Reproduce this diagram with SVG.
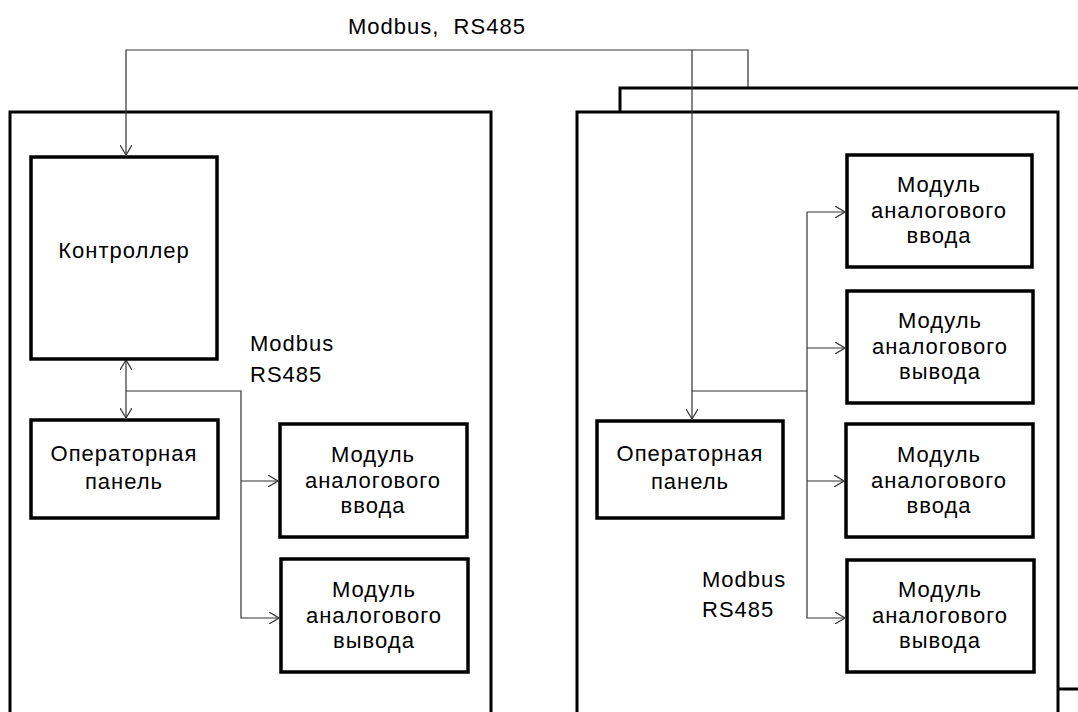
<svg xmlns="http://www.w3.org/2000/svg" width="1078" height="712" viewBox="0 0 1078 712">
<style>
.frame{fill:#fff;stroke:#000;stroke-width:3}
.box{fill:#fff;stroke:#000;stroke-width:3.5}
.wire{fill:none;stroke:#333;stroke-width:1.2}
text{font-family:"Liberation Sans",Arial,sans-serif;font-size:22px;letter-spacing:1px;fill:#000}
.c{text-anchor:middle}
</style>
<defs>
<marker id="ah" viewBox="0 0 10 12" refX="10" refY="6" markerWidth="10" markerHeight="12" markerUnits="userSpaceOnUse" orient="auto-start-reverse">
<path d="M0,0 L10,6 L0,12" fill="none" stroke="#333" stroke-width="1.2"/>
</marker>
</defs>
<rect width="1078" height="712" fill="#fff"/>
<g id="frame-left"><rect class="frame" x="10" y="112" width="481" height="700"/></g>
<g id="frame-right-back"><rect class="frame" x="620" y="88" width="600" height="601"/></g>
<g id="frame-right"><rect class="frame" x="577" y="112" width="481" height="700"/></g>
<g id="connectors">
<polyline class="wire" points="748,87 748,50 126,50 126,155" marker-end="url(#ah)"/>
<polyline class="wire" points="692,50 692,419" marker-end="url(#ah)"/>
<line class="wire" x1="126" y1="360" x2="126" y2="418" marker-start="url(#ah)" marker-end="url(#ah)"/>
<polyline class="wire" points="126,391 241,391 241,618 279,618" marker-end="url(#ah)"/>
<line class="wire" x1="241" y1="481" x2="278" y2="481" marker-end="url(#ah)"/>
<polyline class="wire" points="692,391 807,391 807,618 845,618" marker-end="url(#ah)"/>
<polyline class="wire" points="807,212 845,212" marker-end="url(#ah)"/>
<line class="wire" x1="807" y1="212" x2="807" y2="391"/>
<line class="wire" x1="807" y1="348" x2="845" y2="348" marker-end="url(#ah)"/>
<line class="wire" x1="807" y1="481" x2="844" y2="481" marker-end="url(#ah)"/>
</g>
<text id="lbl-top" x="348" y="34" xml:space="preserve" style="white-space:pre">Modbus,  RS485</text>
<text id="lbl-left-1" x="250" y="351">Modbus</text>
<text id="lbl-left-2" x="250" y="382">RS485</text>
<text id="lbl-right-1" x="702" y="587">Modbus</text>
<text id="lbl-right-2" x="702" y="617">RS485</text>
<g id="controller"><rect class="box" x="31" y="157" width="186" height="202"/><text class="c" x="124" y="258">Контроллер</text></g>
<g id="op-panel-left"><rect class="box" x="31" y="420" width="187" height="98"/><text class="c" x="124" y="461">Операторная</text><text class="c" x="124" y="489">панель</text></g>
<g id="ai-left"><rect class="box" x="280" y="424" width="187" height="113"/><text class="c" x="373" y="462">Модуль</text><text class="c" x="373" y="488">аналогового</text><text class="c" x="373" y="513">ввода</text></g>
<g id="ao-left"><rect class="box" x="281" y="559" width="187" height="113"/><text class="c" x="374" y="597">Модуль</text><text class="c" x="374" y="623">аналогового</text><text class="c" x="374" y="648">вывода</text></g>
<g id="op-panel-right"><rect class="box" x="597" y="421" width="186" height="97"/><text class="c" x="690" y="461">Операторная</text><text class="c" x="690" y="489">панель</text></g>
<g id="ai-right-1"><rect class="box" x="847" y="155" width="185" height="112"/><text class="c" x="939" y="192">Модуль</text><text class="c" x="939" y="218">аналогового</text><text class="c" x="939" y="243">ввода</text></g>
<g id="ao-right-1"><rect class="box" x="847" y="291" width="186" height="112"/><text class="c" x="940" y="328">Модуль</text><text class="c" x="940" y="354">аналогового</text><text class="c" x="940" y="379">вывода</text></g>
<g id="ai-right-2"><rect class="box" x="846" y="424" width="187" height="113"/><text class="c" x="939" y="462">Модуль</text><text class="c" x="939" y="488">аналогового</text><text class="c" x="939" y="513">ввода</text></g>
<g id="ao-right-2"><rect class="box" x="847" y="560" width="187" height="112"/><text class="c" x="940" y="597">Модуль</text><text class="c" x="940" y="623">аналогового</text><text class="c" x="940" y="648">вывода</text></g>
</svg>
